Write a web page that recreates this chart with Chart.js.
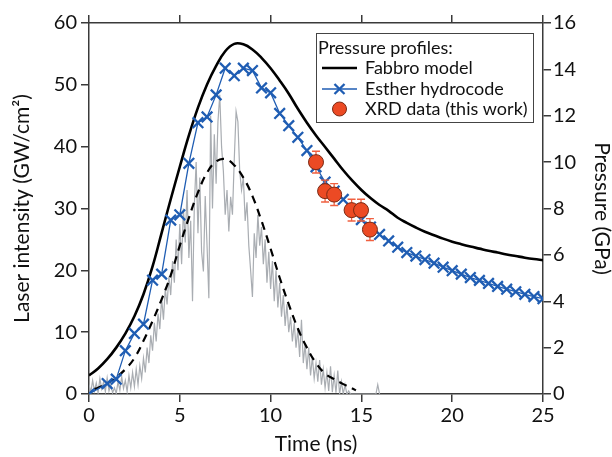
<!DOCTYPE html>
<html>
<head>
<meta charset="utf-8">
<script src="https://cdn.jsdelivr.net/npm/chart.js@4.4.1/dist/chart.umd.min.js"></script>
<style>
  html, body { margin: 0; padding: 0; background: #fff; }
  #wrap { width: 612px; height: 457px; }
</style>
</head>
<body>
<div id="wrap"><canvas id="pressure-chart" width="612" height="457"></canvas></div>
<script>
// Fabbro model (pressure, GPa)
const fabbroTime = [0, 0.5, 1, 1.5, 2, 2.5, 3, 3.5, 4, 4.5, 5, 5.5, 6, 6.5, 7, 7.5, 8, 8.5, 9, 9.5, 10,
  10.5, 11, 11.5, 12, 12.5, 13, 13.5, 14, 14.5, 15, 15.5, 16, 16.5, 17, 17.5, 18, 18.5, 19, 19.5, 20,
  20.5, 21, 21.5, 22, 22.5, 23, 23.5, 24, 24.5, 25];
const fabbroPressure = [0.8, 1.1, 1.5, 2.0, 2.6, 3.35, 4.3, 5.5, 6.95, 8.4, 9.8, 11.15, 12.35, 13.35, 14.15, 14.78, 15.1, 15.08, 14.86, 14.5, 14.05,
  13.52, 12.95, 12.3, 11.7, 11.15, 10.65, 10.15, 9.65, 9.2, 8.8, 8.45, 8.15, 7.9, 7.6, 7.38, 7.18, 7.0, 6.85, 6.7, 6.57,
  6.46, 6.36, 6.27, 6.18, 6.1, 6.02, 5.95, 5.88, 5.82, 5.77];

// Esther hydrocode (pressure, GPa)
const estherTime = [0, 1, 1.5, 2, 2.5, 3, 3.5, 4, 4.5, 5, 5.5, 6, 6.5, 7, 7.5, 8, 8.5, 9, 9.5, 10,
  10.5, 11, 11.5, 12, 12.5, 13, 13.5, 14, 14.5, 15, 15.5, 16, 16.5, 17, 17.5, 18, 18.5, 19, 19.5, 20,
  20.5, 21, 21.5, 22, 22.5, 23, 23.5, 24, 24.5, 25];
const estherPressure = [0, 0.45, 0.64, 1.87, 2.61, 3.01, 4.91, 5.17, 7.5, 7.73, 9.95, 11.7, 11.95, 12.9, 14.05, 13.73, 14.05, 13.95, 13.2, 12.99,
  12.1, 11.57, 11.07, 10.5, 9.8, 9.14, 8.75, 8.39, 7.95, 7.52, 7.2, 6.88, 6.6, 6.33, 6.1, 5.95, 5.8, 5.64, 5.47, 5.32,
  5.17, 5.02, 4.9, 4.77, 4.64, 4.52, 4.41, 4.3, 4.2, 4.11];

// XRD data (this work)
const xrdTime = [12.5, 13.0, 13.5, 14.46, 14.98, 15.47];
const xrdPressure = [10.0, 8.75, 8.6, 7.93, 7.93, 7.09];
const xrdError = [0.47, 0.47, 0.47, 0.47, 0.47, 0.47];

// measured laser intensity (GW/cm2), sampled every 0.1 ns from t = 0
const laserStep = 0.1;
const laserIntensity = [
  1.5, 0.3, 2.2, 0.5, 1.8, 0.2, 2.5, 0.8, 1.9, 0.4,
  2.6, 0.5, 1.5, 0.2, 1.0, 0.1, 2.0, 0.6, 2.8, 0.9,
  2.2, 0.4, 3.0, 1.0, 3.5, 1.2, 4.0, 1.5, 4.6, 2.5,
  5.8, 3.5, 7.5, 5.0, 9.5, 7.0, 11.5, 8.5, 13.0, 10.5,
  15.5, 12.0, 17.0, 14.5, 19.0, 16.0, 21.5, 18.0, 25.0, 20.0,
  27.5, 21.0, 30.0, 24.5, 33.0, 22.0, 28.0, 15.0, 30.5, 37.5,
  26.0, 35.0, 23.0, 19.8, 32.0, 24.0, 15.5, 45.0, 30.0, 42.0,
  34.0, 44.0, 48.4, 40.0, 36.0, 29.0, 33.0, 26.3, 31.9, 29.0,
  38.0, 45.7, 44.0, 36.0, 33.0, 35.0, 28.0, 31.0, 24.0, 20.0,
  15.7, 26.0, 22.0, 29.0, 24.0, 27.0, 21.0, 25.0, 18.0, 23.0,
  17.0, 21.5, 15.0, 20.0, 14.0, 18.0, 12.5, 16.0, 11.0, 14.5,
  10.0, 12.5, 8.5, 11.5, 7.5, 10.5, 6.0, 12.0, 5.0, 8.0,
  4.0, 7.5, 3.0, 6.0, 2.5, 5.0, 2.0, 5.5, 1.5, 4.0,
  1.0, 3.5, 0.5, 4.5, 0.3, 3.0, 0.2, 3.8, 0.0, 2.0,
  0.0, 1.5, 0.0, 0.5, 0.0, 0.0, 0.0, 0.0, 0.0, 0.0,
  0.0, 0.0, 0.0, 0.0, 0.0, 0.0, 0.0, 0.0, 0.0, 1.5,
  0.0
];

// gaussian fit of the laser pulse (dashed)
const fitTime = [0.3, 0.5, 1, 1.5, 2, 2.5, 3, 3.5, 4, 4.5, 5, 5.5, 6, 6.5, 7, 7.5, 8, 8.5, 9, 9.5, 10,
  10.5, 11, 11.5, 12, 12.5, 13, 13.5, 14, 14.5, 14.7];
const fitIntensity = [0.8, 1.0, 1.7, 2.7, 4.0, 5.8, 8.6, 11.8, 15.3, 19.2, 24.0, 28.5, 32.6, 35.8, 37.6, 38.0, 37.0, 35.0, 32.0, 28.0, 23.5,
  18.8, 14.5, 10.6, 7.5, 5.0, 3.3, 2.4, 1.6, 0.9, 0.6];

const legendTitle = 'Pressure profiles:';

const pairs = (xs, ys) => xs.map((x, i) => ({ x: x, y: ys[i] }));

const esterBlue = '#1f5db3';
const xrdFill = '#ec4a24';
const axisColor = '#3a3a3a';
const font = 'Lato';

// error bars for the XRD points, drawn just before the circles
const errorBars = {
  id: 'errorBars',
  beforeDatasetDraw(chart, args) {
    if (args.meta.label !== 'XRD data (this work)') return;
    const { ctx, scales } = chart;
    const sx = scales.x, sy = scales.y2;
    ctx.save();
    ctx.strokeStyle = '#f06040';
    ctx.lineWidth = 1.3;
    xrdTime.forEach((t, i) => {
      const px = sx.getPixelForValue(t);
      const top = sy.getPixelForValue(xrdPressure[i] + xrdError[i]);
      const bot = sy.getPixelForValue(xrdPressure[i] - xrdError[i]);
      ctx.beginPath();
      ctx.moveTo(px, top); ctx.lineTo(px, bot);
      ctx.moveTo(px - 4, top); ctx.lineTo(px + 4, top);
      ctx.moveTo(px - 4, bot); ctx.lineTo(px + 4, bot);
      ctx.stroke();
    });
    ctx.restore();
  }
};

// boxed legend inside the top right of the plot
const boxLegend = {
  id: 'boxLegend',
  afterDraw(chart) {
    const { ctx, chartArea } = chart;
    const left = chartArea.right - 227, top = chartArea.top + 10;
    const w = 217, h = 89;
    ctx.save();
    ctx.fillStyle = '#fff';
    ctx.fillRect(left, top, w, h);
    ctx.strokeStyle = '#444';
    ctx.lineWidth = 1;
    ctx.strokeRect(left + 0.5, top + 0.5, w, h);

    ctx.font = '18px ' + font;
    ctx.fillStyle = '#111';
    ctx.textBaseline = 'middle';
    ctx.fillText(legendTitle, left + 2, top + 15);

    const rows = [top + 35, top + 56, top + 76];
    const sx0 = left + 6, sx1 = left + 41, tx = left + 49;

    ctx.strokeStyle = '#000';
    ctx.lineWidth = 2.6;
    ctx.beginPath(); ctx.moveTo(sx0, rows[0]); ctx.lineTo(sx1, rows[0]); ctx.stroke();

    ctx.strokeStyle = esterBlue;
    ctx.lineWidth = 1.3;
    ctx.beginPath(); ctx.moveTo(sx0, rows[1]); ctx.lineTo(sx1, rows[1]); ctx.stroke();
    const cx = (sx0 + sx1) / 2, d = 5;
    ctx.lineWidth = 2.3;
    ctx.beginPath();
    ctx.moveTo(cx - d, rows[1] - d); ctx.lineTo(cx + d, rows[1] + d);
    ctx.moveTo(cx - d, rows[1] + d); ctx.lineTo(cx + d, rows[1] - d);
    ctx.stroke();

    ctx.fillStyle = xrdFill;
    ctx.strokeStyle = '#7a2a14';
    ctx.lineWidth = 1;
    ctx.beginPath(); ctx.arc(cx, rows[2], 7, 0, Math.PI * 2); ctx.fill(); ctx.stroke();

    ctx.fillStyle = '#111';
    const items = chart.data.datasets.filter(ds => ds.inLegend).map(ds => ds.label);
    ctx.fillText(items[2], tx, rows[0]);
    ctx.fillText(items[1], tx, rows[1]);
    ctx.fillText(items[0], tx, rows[2]);
    ctx.restore();
  }
};

const ctx = document.getElementById('pressure-chart');

const data = {
  datasets: [
    {
      label: 'XRD data (this work)',
      inLegend: true,
      data: pairs(xrdTime, xrdPressure),
      xAxisID: 'x', yAxisID: 'y2',
      showLine: false,
      pointStyle: 'circle',
      pointRadius: 7.5,
      pointBackgroundColor: xrdFill,
      pointBorderColor: '#7a2a14',
      pointBorderWidth: 1,
    },
    {
      label: 'Esther hydrocode',
      inLegend: true,
      data: pairs(estherTime, estherPressure),
      xAxisID: 'x', yAxisID: 'y2',
      borderColor: esterBlue,
      borderWidth: 1.3,
      pointStyle: 'crossRot',
      pointRadius: 7.5,
      pointBorderWidth: 2.3,
      pointBorderColor: esterBlue,
    },
    {
      label: 'Fabbro model',
      inLegend: true,
      data: pairs(fabbroTime, fabbroPressure),
      xAxisID: 'x', yAxisID: 'y2',
      borderColor: '#000',
      borderWidth: 2.6,
      pointRadius: 0,
      tension: 0.4,
    },
    {
      label: 'Laser fit',
      data: pairs(fitTime, fitIntensity),
      xAxisID: 'x', yAxisID: 'y',
      borderColor: '#000',
      borderWidth: 2.2,
      borderDash: [8, 6],
      pointRadius: 0,
      tension: 0.4,
    },
    {
      label: 'Laser intensity',
      data: laserIntensity.map((v, i) => ({ x: i * laserStep, y: v })),
      xAxisID: 'x', yAxisID: 'y',
      borderColor: '#a9adb2',
      borderWidth: 1.2,
      pointRadius: 0,
    },
  ]
};

const gridOpts = { drawOnChartArea: false, drawTicks: true, tickLength: 8, color: axisColor, lineWidth: 1.5 };
const borderOpts = { display: true, color: axisColor, width: 1.5 };
const tickFont = { family: font, size: 20 };
const titleFont = { family: font, size: 21 };

const config = {
  type: 'line',
  data: data,
  plugins: [errorBars, boxLegend],
  options: {
    responsive: false,
    animation: false,
    devicePixelRatio: 1,
    layout: { padding: 0 },
    plugins: {
      legend: { display: false },
      tooltip: { enabled: false },
      title: { display: false },
    },
    scales: {
      x: {
        type: 'linear', position: 'bottom', min: 0, max: 25,
        ticks: { stepSize: 5, font: tickFont, color: '#111', padding: 2, maxRotation: 0 },
        grid: gridOpts, border: borderOpts,
        title: { display: true, text: 'Time (ns)', font: titleFont, color: '#111', padding: { top: 0, bottom: 0 } },
        afterFit: (s) => { s.height = 63; },
      },
      x2: {
        type: 'linear', position: 'top', min: 0, max: 25,
        ticks: { stepSize: 5, display: false },
        grid: gridOpts, border: borderOpts,
        afterFit: (s) => { s.height = 23; },
      },
      y: {
        type: 'linear', position: 'left', min: 0, max: 60,
        ticks: { stepSize: 10, font: tickFont, color: '#111', padding: 4 },
        grid: gridOpts, border: borderOpts,
        title: { display: true, text: 'Laser intensity (GW/cm\u00B2)', font: titleFont, color: '#111', padding: { top: 10, bottom: 0 } },
        afterFit: (s) => { s.width = 89; },
      },
      y2: {
        type: 'linear', position: 'right', min: 0, max: 16,
        ticks: { stepSize: 2, font: tickFont, color: '#111', padding: 2 },
        grid: gridOpts, border: borderOpts,
        title: { display: true, text: 'Pressure (GPa)', font: titleFont, color: '#111', padding: { top: -2, bottom: 0 } },
        afterFit: (s) => { s.width = 69; },
      },
    }
  }
};

new Chart(ctx, config);
</script>
</body>
</html>
